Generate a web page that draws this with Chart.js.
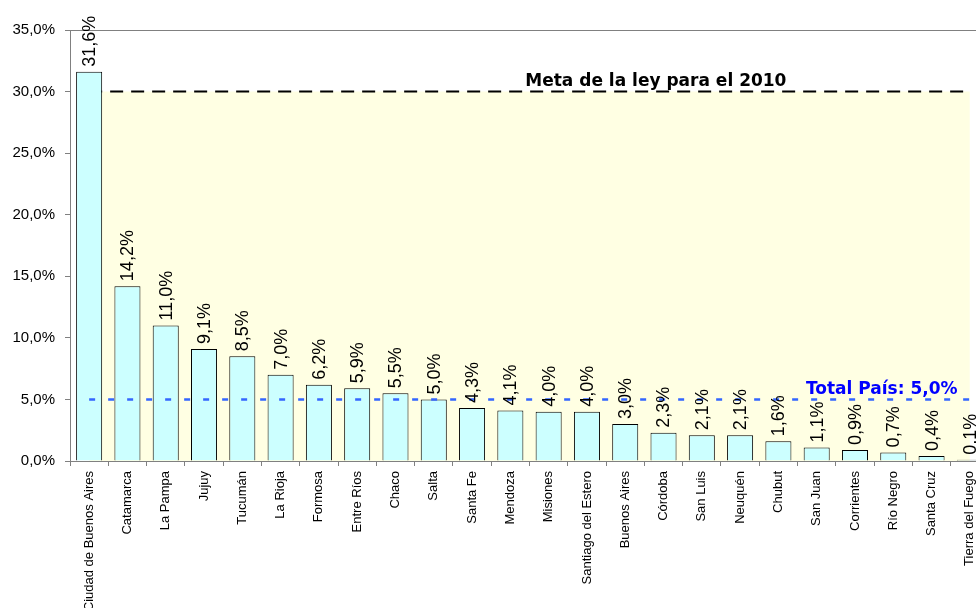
<!DOCTYPE html>
<html>
<head>
<meta charset="utf-8">
<title>Meta de la ley para el 2010</title>
<script src="https://cdn.jsdelivr.net/npm/chart.js@4"></script>
<style>
	html, body { margin: 0; padding: 0; background: #fff; overflow: hidden; }
	#wrap { width: 1000px; height: 608px; }
</style>
</head>
<body>
<div id="wrap"><canvas id="provChart" width="1000" height="608"></canvas></div>
<script>
var provincias = ['Ciudad de Buenos Aires', 'Catamarca', 'La Pampa', 'Jujuy', 'Tucumán', 'La Rioja', 'Formosa', 'Entre Ríos', 'Chaco', 'Salta', 'Santa Fe', 'Mendoza', 'Misiones', 'Santiago del Estero', 'Buenos Aires', 'Córdoba', 'San Luis', 'Neuquén', 'Chubut', 'San Juan', 'Corrientes', 'Río Negro', 'Santa Cruz', 'Tierra del Fuego'];
var porcentajes = [31.6, 14.2, 11.0, 9.1, 8.5, 7.0, 6.2, 5.9, 5.5, 5.0, 4.3, 4.1, 4.0, 4.0, 3.0, 2.3, 2.1, 2.1, 1.6, 1.1, 0.9, 0.7, 0.4, 0.1];
var metaLey = 30.0;
var totalPais = 5.0;
var yTicks = [0, 5, 10, 15, 20, 25, 30, 35];

function fmtPct(v) {
	return v.toFixed(1).replace('.', ',') + '%';
}

function fill(v) {
	return provincias.map(function(){ return v; });
}

// value labels above each bar + the two reference captions
var labelsPlugin = {
	id: 'labelsPlugin',
	afterDatasetsDraw: function(chart) {
		var ctx = chart.ctx;
		var x = chart.scales.x, y = chart.scales.y;
		var meta = chart.getDatasetMeta(1);
		ctx.save();
		ctx.fillStyle = '#000';
		ctx.font = '18px "Liberation Sans", Arial, sans-serif';
		ctx.textAlign = 'left';
		ctx.textBaseline = 'middle';
		meta.data.forEach(function(bar, i) {
			ctx.save();
			ctx.translate(bar.x + 1, bar.y - 5);
			ctx.rotate(-Math.PI / 2);
			ctx.fillText(fmtPct(porcentajes[i]), 0, 0);
			ctx.restore();
		});
		ctx.font = 'bold 17px "DejaVu Sans", Verdana, sans-serif';
		ctx.textAlign = 'center';
		ctx.textBaseline = 'alphabetic';
		ctx.fillStyle = '#000';
		ctx.fillText('Meta de la ley para el 2010', x.getPixelForValue(14.8), y.getPixelForValue(metaLey) - 6);
		ctx.fillStyle = '#0000FF';
		ctx.fillText('Total País: ' + fmtPct(totalPais), x.getPixelForValue(20.7), y.getPixelForValue(totalPais) - 5);
		ctx.restore();
	}
};

new Chart(document.getElementById('provChart'), {
	data: {
		labels: provincias,
		datasets: [{
			type: 'line',
			data: fill(metaLey),
			borderColor: '#000',
			borderWidth: 2,
			borderDash: [13, 8],
			backgroundColor: '#FFFFE3',
			fill: 'origin',
			pointRadius: 0,
			order: 3
		}, {
			type: 'bar',
			data: porcentajes,
			backgroundColor: '#CCFFFF',
			borderColor: '#000',
			borderWidth: 1,
			barPercentage: 0.68,
			categoryPercentage: 1,
			order: 2
		}, {
			type: 'line',
			data: fill(totalPais),
			borderColor: '#3366FF',
			borderWidth: 2.5,
			borderDash: [6, 13],
			fill: false,
			pointRadius: 0,
			order: 1
		}]
	},
	options: {
		responsive: false,
		animation: false,
		layout: { padding: { top: 30, right: 11, left: 0, bottom: 0 } },
		plugins: {
			legend: { display: false },
			tooltip: { enabled: false }
		},
		scales: {
			x: {
				grid: { display: true, drawOnChartArea: false, offset: true, tickLength: 5, tickColor: '#808080' },
				border: { color: '#808080' },
				ticks: {
					autoSkip: false,
					maxRotation: 90,
					minRotation: 90,
					padding: 5,
					color: '#000',
					font: { family: '"Liberation Sans", Arial, sans-serif', size: 13 }
				},
				afterFit: function(scale) { scale.height = 147; }
			},
			y: {
				min: 0,
				max: 35,
				afterBuildTicks: function(scale) {
					scale.ticks = yTicks.map(function(v){ return { value: v }; });
				},
				grid: {
					color: function(c) { return c.tick && c.tick.value === 35 ? '#808080' : 'rgba(0,0,0,0)'; },
					tickColor: '#808080',
					tickLength: 5
				},
				border: { color: '#808080' },
				ticks: {
					padding: 10,
					color: '#000',
					font: { family: '"Liberation Sans", Arial, sans-serif', size: 15 },
					callback: function(v) { return fmtPct(v); }
				},
				afterFit: function(scale) { scale.width = 70; }
			}
		}
	},
	plugins: [labelsPlugin]
});
</script>
</body>
</html>
